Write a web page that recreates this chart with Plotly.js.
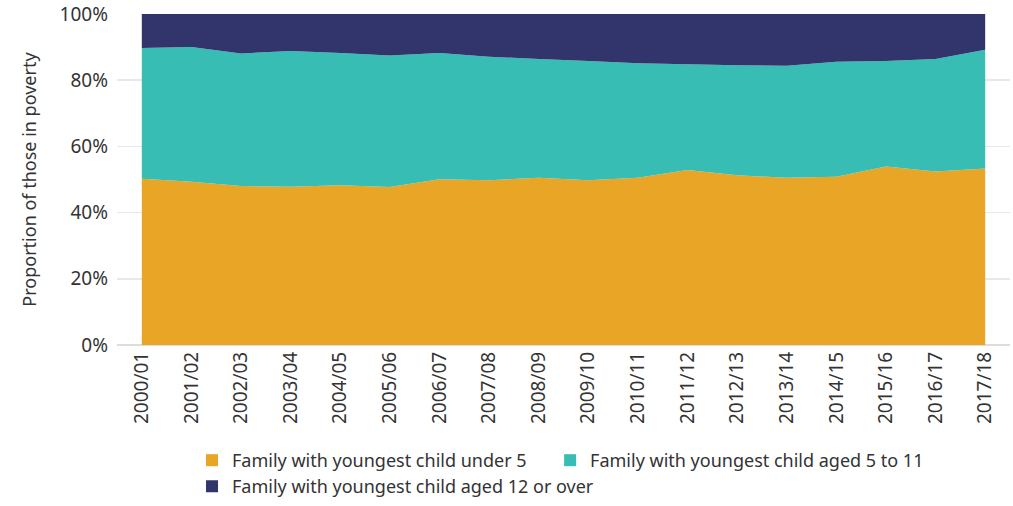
<!DOCTYPE html>
<html>
<head>
<meta charset="utf-8">
<script src="https://cdn.plot.ly/plotly-3.0.1.min.js"></script>
<style>html,body{margin:0;padding:0;background:#fff;}#chart{width:1013px;height:506px;}</style>
</head>
<body>
<div id="chart"></div>
<script>
const years = ["2000/01","2001/02","2002/03","2003/04","2004/05","2005/06","2006/07","2007/08","2008/09","2009/10","2010/11","2011/12","2012/13","2013/14","2014/15","2015/16","2016/17","2017/18"];
const under5 = [50.2,49.3,48.0,47.8,48.3,47.7,50.1,49.8,50.5,49.8,50.5,52.9,51.3,50.5,50.8,53.9,52.4,53.3];
const aged5to11 = [39.5,40.7,40.1,41.0,39.9,39.8,38.1,37.3,35.9,36.0,34.6,31.9,33.2,33.9,34.8,31.9,34.0,35.9];
const aged12plus = [10.3,10.0,11.9,11.2,11.8,12.5,11.8,12.9,13.6,14.2,14.9,15.2,15.5,15.6,14.4,14.2,13.6,10.8];
const yTickValues = [0,20,40,60,80,100];
const yTickLabels = ["0%","20%","40%","60%","80%","100%"];
const seriesNames = ["Family with youngest child under 5","Family with youngest child aged 5 to 11","Family with youngest child aged 12 or over"];
const seriesColors = ["#E8A526","#38BDB4","#31356B"];
const seriesValues = [under5, aged5to11, aged12plus];
const legendIds = ["legend","legend2","legend3"];

const traces = [];
seriesValues.forEach((vals, i) => {
  traces.push({
    type: "scatter", mode: "none", x: years, y: vals,
    stackgroup: "one", fillcolor: seriesColors[i], line: {width: 0},
    name: seriesNames[i], showlegend: false, hoverinfo: "x+y+name"
  });
});
// legend-only entries (square swatches)
seriesValues.forEach((vals, i) => {
  traces.push({
    type: "bar", x: [null], y: [null], name: seriesNames[i],
    marker: {color: seriesColors[i]}, showlegend: true, hoverinfo: "skip",
    legend: legendIds[i]
  });
});

const font = {family: "Noto Sans, Open Sans, sans-serif", size: 18, color: "#333333"};
const legendBase = {orientation: "h", xanchor: "left", yanchor: "top",
  font: {size: 18, color: "#333333"}, itemclick: false, bgcolor: "rgba(0,0,0,0)"};
const layout = {
  width: 1013, height: 506,
  margin: {l: 117, r: 3, t: 14, b: 161, autoexpand: false},
  paper_bgcolor: "#ffffff", plot_bgcolor: "#ffffff",
  font: font,
  showlegend: true,
  xaxis: {
    type: "category", range: [-0.5, 17.5], tickangle: -90, automargin: false,
    showgrid: false, zeroline: false, showline: false, ticks: "",
    tickfont: {size: 19, color: "#333333"}, ticklabelstandoff: 2
  },
  yaxis: {
    range: [0, 100], tickmode: "array", tickvals: yTickValues, ticktext: yTickLabels, automargin: false,
    showgrid: true, gridcolor: "#e8e8e8", gridwidth: 1.5, zeroline: true, zerolinecolor: "#dddddd", zerolinewidth: 1.5,
    tickfont: {size: 19, color: "#333333"}, ticks: "", ticklabelstandoff: 8,
    title: {text: "Proportion of those in poverty", font: {size: 18, color: "#333333"}, standoff: 18}
  },
  legend: Object.assign({}, legendBase, {x: 0.084, y: -0.293}),
  legend2: Object.assign({}, legendBase, {x: 0.485, y: -0.293}),
  legend3: Object.assign({}, legendBase, {x: 0.084, y: -0.372})
};
Plotly.newPlot("chart", traces, layout, {displayModeBar: false, staticPlot: true});
</script>
</body>
</html>
